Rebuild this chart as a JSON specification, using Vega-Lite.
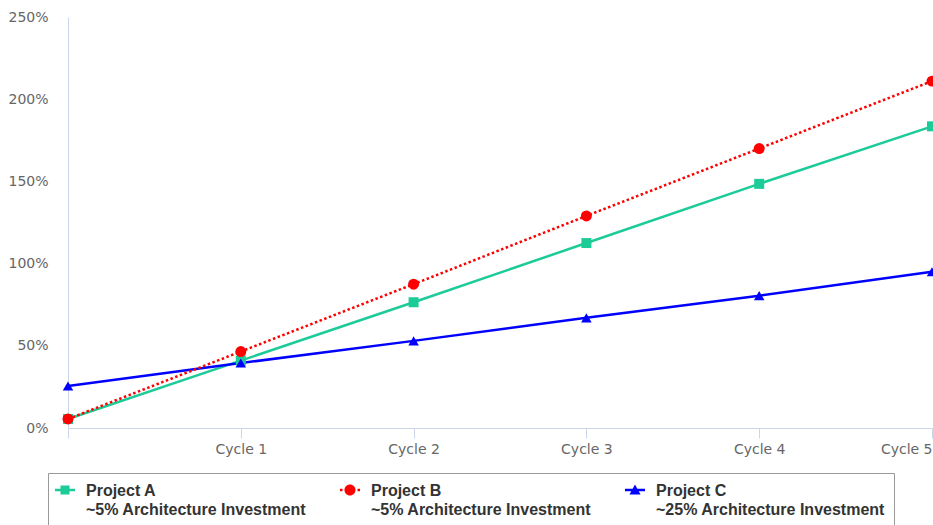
{
  "$schema": "https://vega.github.io/schema/vega-lite/v6.json",
  "width": 864,
  "height": 411,
  "autosize": {"type": "none"},
  "padding": {"left": 68, "top": 17, "right": 1, "bottom": 97},
  "background": "white",
  "config": {
    "view": {"stroke": null},
    "axis": {
      "labelFont": "DejaVu Sans",
      "labelFontSize": 14,
      "labelColor": "#666666",
      "grid": false,
      "domainColor": "#ccd6eb",
      "tickColor": "#ccd6eb"
    }
  },
  "data": {
    "values": [
      {"series": "Project A", "cycle": 0, "value": 5.5},
      {"series": "Project A", "cycle": 1, "value": 41},
      {"series": "Project A", "cycle": 2, "value": 76.5},
      {"series": "Project A", "cycle": 3, "value": 112.5},
      {"series": "Project A", "cycle": 4, "value": 148.5},
      {"series": "Project A", "cycle": 5, "value": 183.5},
      {"series": "Project B", "cycle": 0, "value": 5.5},
      {"series": "Project B", "cycle": 1, "value": 46.5},
      {"series": "Project B", "cycle": 2, "value": 87.5},
      {"series": "Project B", "cycle": 3, "value": 129},
      {"series": "Project B", "cycle": 4, "value": 170},
      {"series": "Project B", "cycle": 5, "value": 211},
      {"series": "Project C", "cycle": 0, "value": 25.5},
      {"series": "Project C", "cycle": 1, "value": 39.5},
      {"series": "Project C", "cycle": 2, "value": 53},
      {"series": "Project C", "cycle": 3, "value": 67},
      {"series": "Project C", "cycle": 4, "value": 80.5},
      {"series": "Project C", "cycle": 5, "value": 95}
    ]
  },
  "encoding": {
    "x": {
      "field": "cycle",
      "type": "quantitative",
      "scale": {"domain": [0, 5], "nice": false, "zero": false},
      "axis": {
        "title": null,
        "values": [0, 1, 2, 3, 4, 5],
        "labelExpr": "datum.value == 0 ? '' : 'Cycle ' + datum.value",
        "tickSize": 10,
        "labelPadding": 4,
        "labelFlush": true
      }
    },
    "y": {
      "field": "value",
      "type": "quantitative",
      "scale": {"domain": [0, 250], "nice": false},
      "axis": {
        "title": null,
        "values": [0, 50, 100, 150, 200, 250],
        "labelExpr": "datum.value + '%'",
        "ticks": false,
        "labelPadding": 20
      }
    },
    "color": {
      "field": "series",
      "type": "nominal",
      "scale": {"domain": ["Project A", "Project B", "Project C"], "range": ["#1ccb98", "#ff0000", "#0000ff"]},
      "legend": {
        "orient": "none",
        "legendX": -20,
        "legendY": 456,
        "title": null,
        "direction": "horizontal",
        "columns": 3,
        "columnPadding": 32,
        "strokeColor": "#999999",
        "fillColor": "white",
        "padding": 9,
        "labelFont": "Liberation Sans",
        "labelFontWeight": "bold",
        "labelFontSize": 16,
        "labelColor": "#333333",
        "labelLimit": 400,
        "symbolSize": 144,
        "symbolStrokeWidth": 0,
        "labelOffset": 13,
        "labelBaseline": "top",
        "labelExpr": "datum.label == 'Project A' ? ['Project A', '\u2002~5% Architecture Investment'] : datum.label == 'Project B' ? ['Project B', '\u2002~5% Architecture Investment'] : ['Project C', '\u2002~25% Architecture Investment']",
        "encode": {
          "symbols": {
            "update": {
              "shape": {"signal": "datum.value === 'Project A' ? 'M-1.67,-0.2H1.67V0.2H-1.67Z M-0.75,-0.75H0.75V0.75H-0.75Z' : datum.value === 'Project B' ? 'M-1.67,-0.2H-1.25V0.2H-1.67Z M1.25,-0.2H1.67V0.2H1.25Z M0.92,0A0.92,0.92,0,1,1,-0.92,0A0.92,0.92,0,1,1,0.92,0Z' : 'M-1.67,-0.2H1.67V0.2H-1.67Z M0,-0.9L0.92,0.75L-0.92,0.75Z'"},
              "fill": {"scale": "color", "field": "value"},
              "stroke": {"value": "transparent"}
            }
          },
          "labels": {
            "update": {
              "dy": {"value": -7},
              "lineHeight": {"value": 19}
            }
          }
        }
      }
    }
  },
  "layer": [
    {
      "transform": [{"filter": "datum.series !== 'Project B'"}],
      "mark": {"type": "line", "strokeWidth": 2.5}
    },
    {
      "transform": [{"filter": "datum.series === 'Project B'"}],
      "mark": {"type": "line", "strokeWidth": 2.5, "strokeDash": [2.5, 2.5]}
    },
    {
      "transform": [{"filter": "datum.series === 'Project A'"}],
      "mark": {"type": "point", "filled": true, "opacity": 1, "size": 100, "shape": "square"}
    },
    {
      "transform": [{"filter": "datum.series === 'Project B'"}],
      "mark": {"type": "point", "filled": true, "opacity": 1, "size": 120, "shape": "circle"}
    },
    {
      "transform": [{"filter": "datum.series === 'Project C'"}],
      "mark": {"type": "point", "filled": true, "opacity": 1, "size": 110, "shape": "triangle-up"}
    }
  ]
}
